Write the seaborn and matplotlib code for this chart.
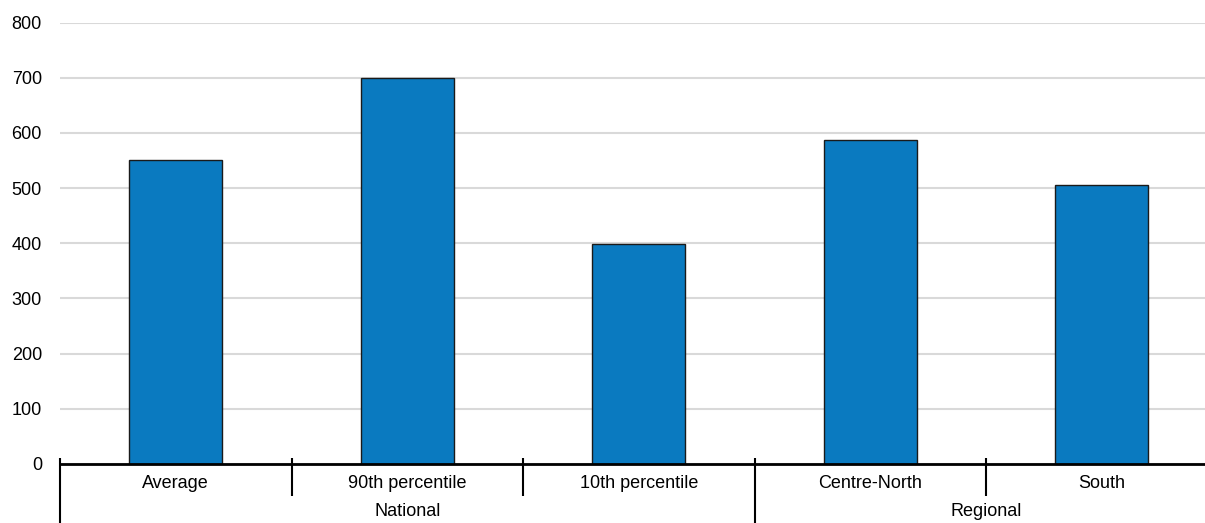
import matplotlib
matplotlib.use("Agg")
import matplotlib.pyplot as plt
import seaborn as sns
import pandas as pd
import numpy as np

categories = ["Average", "90th percentile", "10th percentile", "Centre-North", "South"]
values = [551, 700, 399, 587, 506]
groups = ["National", "National", "National", "Regional", "Regional"]
yticks = [0, 100, 200, 300, 400, 500, 600, 700, 800]

sns.set_theme(style="white")
plt.rcParams["font.family"] = ["Liberation Sans", "DejaVu Sans"]
plt.rcParams["text.color"] = "black"
plt.rcParams["ytick.color"] = "black"
plt.rcParams["xtick.color"] = "black"

df = pd.DataFrame({"category": categories, "value": values, "group": groups})

W, H = 1205, 523
fig = plt.figure(figsize=(W / 100, H / 100), dpi=100)
left_px, right_px = 60, 1217.5
bottom_px, top_px = 523 - 464, 523 - 22.5
ax = fig.add_axes([left_px / W, bottom_px / H, (right_px - left_px) / W, (top_px - bottom_px) / H])

sns.barplot(data=df, x="category", y="value", order=categories, color="#0A7AC0",
            saturation=1, edgecolor="#1a1a1a", linewidth=1.0, width=0.4, ax=ax)

ax.set_xlim(-0.5, len(categories) - 0.5)
ax.set_ylim(0, 800)
ax.set_yticks(yticks)
ax.set_yticklabels([str(t) for t in yticks], fontsize=13, color="black")
ax.yaxis.grid(True, color="#d9d9d9", linewidth=1.5)
ax.set_axisbelow(True)
for s in ["top", "right", "left"]:
    ax.spines[s].set_visible(False)
ax.spines["bottom"].set_color("black")
ax.spines["bottom"].set_linewidth(2)
ax.tick_params(axis="y", length=0, pad=13)
ax.tick_params(axis="x", length=0)
ax.set_xticks([])
ax.set_xlabel("")
ax.set_ylabel("")

trans = ax.get_xaxis_transform()
ph = top_px - bottom_px
y_top = 6 / ph
y_short = (27 - bottom_px) / ph
y_long = -bottom_px / ph
y_cat = (40 - bottom_px) / ph
y_grp = (11 - bottom_px) / ph

n = len(categories)
for i, c in enumerate(categories):
    ax.text(i, y_cat, c, transform=trans, ha="center", va="center", fontsize=13, color="black")

# boundaries
for b in range(n + 1):
    x = b - 0.5
    is_group_edge = b == 0 or b == n or groups[b] != groups[b - 1]
    y_end = y_long if is_group_edge else y_short
    ax.plot([x, x], [y_top, y_end], transform=trans, color="black", linewidth=1.5,
            clip_on=False, solid_capstyle="butt")

# group labels
seen = []
for g in groups:
    if g not in seen:
        seen.append(g)
for g in seen:
    idx = [i for i, gg in enumerate(groups) if gg == g]
    center = (idx[0] - 0.5 + idx[-1] + 0.5) / 2
    ax.text(center, y_grp, g, transform=trans, ha="center", va="center", fontsize=13, color="black")

fig.savefig("out.png", dpi=100)
